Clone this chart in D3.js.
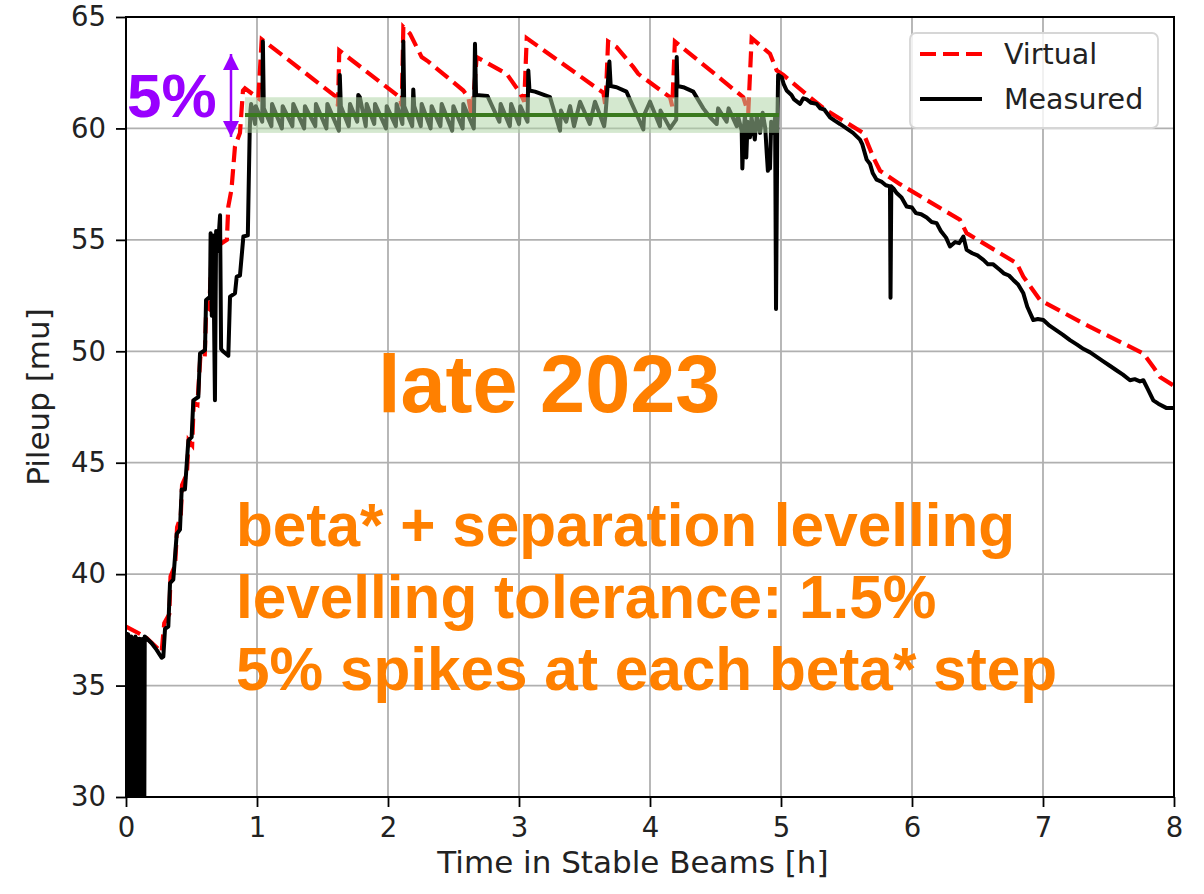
<!DOCTYPE html>
<html>
<head>
<meta charset="utf-8">
<title>Pileup levelling late 2023</title>
<script src="https://d3js.org/d3.v7.min.js"></script>
<style>
  body { margin: 0; background: #fff; }
  text { font-family: "DejaVu Sans", sans-serif; }
</style>
</head>
<body>
<div id="chart"></div>
<script>
// axis ticks
const xTicks = [0, 1, 2, 3, 4, 5, 6, 7, 8];
const yTicks = [30, 35, 40, 45, 50, 55, 60, 65];

// virtual pileup [time h, mu]
const virtual = [
  [0.000, 37.65], [0.145, 37.2], [0.272, 36.5], [0.292, 37.8], [0.330, 38.2], [0.340, 39.9],
  [0.375, 40.4], [0.390, 42.1], [0.418, 42.6], [0.428, 44.0], [0.465, 44.5], [0.478, 46.0],
  [0.505, 45.8], [0.517, 47.7], [0.545, 47.6], [0.567, 49.7], [0.600, 49.6], [0.613, 52.0],
  [0.635, 51.9], [0.650, 53.9], [0.692, 54.7],
  [0.770, 55.0], [0.781, 56.5], [0.805, 57.25], [0.832, 59.2], [0.870, 59.8], [0.893, 61.7],
  [0.908, 61.8], [1.010, 61.35], [1.036, 64.0], [1.608, 61.4], [1.618, 61.0], [1.628, 63.5],
  [2.090, 61.4], [2.105, 61.0], [2.117, 64.55], [2.168, 64.25], [2.257, 63.2], [2.308, 63.0],
  [2.575, 61.7], [2.613, 61.4], [2.640, 60.5], [2.677, 63.2], [2.906, 62.45], [3.008, 61.6],
  [3.040, 61.2], [3.059, 64.05], [3.644, 61.6], [3.660, 61.0], [3.680, 63.9], [3.745, 63.65],
  [3.873, 62.75], [3.910, 62.45], [4.153, 61.4], [4.170, 61.0], [4.190, 63.9], [4.712, 61.4],
  [4.750, 60.7], [4.776, 64.05], [4.916, 63.35], [4.967, 62.6], [5.018, 62.4], [5.221, 61.4],
  [5.349, 60.8], [5.628, 59.8], [5.705, 58.7], [5.756, 58.1], [5.908, 57.5], [6.366, 55.9],
  [6.417, 55.3], [6.799, 53.95], [6.850, 53.35], [6.977, 52.3], [7.308, 51.25], [7.766, 49.9],
  [7.842, 49.3], [7.893, 48.85], [8.000, 48.45]
];

// measured pileup [time h, mu]
const measured = [
  // dropouts at the very start
  [0.000, 37.4], [0.004, 30], [0.008, 37.3], [0.012, 30], [0.016, 37.3], [0.020, 30],
  [0.024, 37.2], [0.028, 30], [0.032, 37.2], [0.036, 30], [0.040, 37.2], [0.044, 30],
  [0.048, 37.1], [0.052, 30], [0.056, 37.1], [0.060, 30], [0.064, 37.1], [0.068, 30],
  [0.072, 37.2], [0.076, 30], [0.080, 37.1], [0.084, 30], [0.088, 37.1], [0.092, 30],
  [0.096, 37.0], [0.100, 30], [0.104, 37.1], [0.108, 30], [0.112, 37.0], [0.116, 30],
  [0.120, 37.0], [0.124, 30], [0.128, 37.1], [0.132, 30], [0.136, 37.1], [0.140, 30],
  [0.143, 37.2],
  // ramp up
  [0.196, 36.9], [0.234, 36.6], [0.272, 36.25], [0.285, 36.3], [0.298, 37.55], [0.323, 37.65],
  [0.336, 39.6], [0.361, 39.75], [0.387, 41.8], [0.412, 42.0], [0.425, 43.8], [0.450, 43.8],
  [0.476, 46.0], [0.501, 46.15], [0.514, 47.8], [0.552, 47.95], [0.565, 49.9], [0.603, 50.05],
  [0.611, 52.3], [0.641, 52.45], [0.646, 55.3], [0.655, 51.6], [0.665, 55.2], [0.679, 47.8],
  [0.688, 55.4], [0.700, 54.5], [0.718, 56.1], [0.726, 50.1], [0.740, 50.0], [0.781, 49.8],
  [0.794, 52.45], [0.832, 52.6], [0.845, 53.35], [0.870, 53.4], [0.896, 55.15], [0.930, 55.2],
  [0.936, 57.2], [0.944, 59.8], [0.950, 60.8],
  // levelling plateau
  [0.955, 61.1], [0.985, 60.2], [0.990, 61.0], [1.040, 60.3], [1.045, 63.9], [1.052, 60.9],
  [1.110, 60.1], [1.115, 61.1], [1.190, 60.0], [1.196, 61.0], [1.270, 60.1], [1.277, 61.1],
  [1.360, 60.0], [1.366, 61.0], [1.445, 60.1], [1.450, 61.1], [1.530, 60.0], [1.537, 61.1],
  [1.625, 59.9], [1.632, 62.4], [1.640, 61.0], [1.700, 60.1], [1.710, 61.1], [1.765, 60.3],
  [1.773, 61.5], [1.785, 61.4], [1.830, 60.1], [1.837, 61.1], [1.895, 60.2], [1.901, 61.1],
  [1.985, 60.0], [1.990, 61.0], [2.060, 60.1], [2.066, 61.1], [2.110, 60.2], [2.117, 63.9],
  [2.124, 61.0], [2.185, 60.1], [2.193, 61.75], [2.200, 61.0], [2.250, 60.1], [2.257, 61.1],
  [2.325, 60.0], [2.333, 61.0], [2.400, 60.1], [2.410, 61.1], [2.490, 59.9], [2.499, 61.0],
  [2.570, 60.0], [2.575, 61.1], [2.655, 60.0], [2.664, 63.8], [2.672, 61.5], [2.760, 61.45],
  [2.850, 60.3], [2.860, 61.1], [2.930, 60.1], [2.940, 61.1], [3.000, 60.2], [3.010, 61.0],
  [3.065, 60.3], [3.071, 62.6], [3.080, 61.7], [3.122, 61.65], [3.237, 61.4], [3.313, 59.9],
  [3.320, 60.8], [3.360, 60.3], [3.390, 61.0], [3.420, 60.1], [3.466, 61.2], [3.540, 60.2],
  [3.580, 61.2], [3.650, 60.1], [3.660, 60.6], [3.690, 63.0], [3.700, 61.9], [3.745, 61.85],
  [3.820, 61.65], [3.900, 60.6], [3.949, 59.95], [3.955, 60.6], [4.000, 61.2], [4.076, 60.1],
  [4.080, 60.8], [4.153, 60.0], [4.200, 60.4], [4.204, 63.2], [4.210, 61.9], [4.254, 61.85],
  [4.330, 61.65], [4.407, 60.9], [4.458, 60.5], [4.509, 60.2], [4.520, 60.9], [4.585, 60.3],
  [4.600, 60.9], [4.662, 60.1], [4.670, 60.6], [4.700, 59.9],
  // end of levelling
  [4.705, 58.2], [4.715, 59.9], [4.725, 60.6], [4.735, 58.7], [4.745, 60.3], [4.763, 59.6],
  [4.775, 60.5], [4.800, 59.5], [4.815, 60.6], [4.840, 59.8], [4.860, 60.7], [4.880, 60.0],
  [4.891, 58.9], [4.900, 58.1], [4.910, 59.0], [4.916, 58.2], [4.925, 60.3], [4.942, 59.8],
  [4.955, 60.5], [4.962, 51.9], [4.972, 60.0], [4.978, 62.4], [4.990, 62.35],
  // decay
  [5.005, 62.3], [5.020, 62.0], [5.043, 61.7], [5.080, 61.5], [5.100, 61.3], [5.145, 61.1],
  [5.170, 61.35], [5.196, 61.3], [5.230, 61.15], [5.272, 61.1], [5.300, 60.9], [5.330, 60.85],
  [5.374, 60.5], [5.410, 60.35], [5.450, 60.2], [5.500, 60.0], [5.550, 59.8], [5.603, 59.5],
  [5.620, 59.3], [5.654, 58.6], [5.680, 58.4], [5.700, 58.0], [5.730, 57.7], [5.770, 57.6],
  [5.800, 57.45], [5.832, 57.4], [5.836, 52.4], [5.842, 57.4], [5.860, 57.3], [5.883, 57.1],
  [5.920, 56.9], [5.959, 56.5], [6.000, 56.45], [6.030, 56.2], [6.070, 56.15], [6.112, 56.0],
  [6.150, 55.8], [6.188, 55.75], [6.220, 55.4], [6.260, 55.1], [6.290, 54.7], [6.330, 54.9],
  [6.360, 54.85], [6.392, 55.15], [6.417, 54.55], [6.460, 54.4], [6.500, 54.3], [6.545, 54.1],
  [6.580, 53.9], [6.620, 53.9], [6.672, 53.65], [6.700, 53.5], [6.740, 53.4], [6.773, 53.2],
  [6.810, 53.0], [6.850, 52.6], [6.880, 52.0], [6.926, 51.4], [6.960, 51.45], [7.003, 51.4],
  [7.050, 51.15], [7.100, 50.95], [7.150, 50.75], [7.206, 50.5], [7.260, 50.3], [7.310, 50.1],
  [7.360, 49.95], [7.410, 49.75], [7.460, 49.55], [7.510, 49.35], [7.560, 49.15], [7.610, 48.95],
  [7.664, 48.7], [7.700, 48.75], [7.740, 48.65], [7.766, 48.7], [7.800, 48.3], [7.842, 47.8],
  [7.880, 47.65], [7.944, 47.45], [8.000, 47.45]
];

// levelling target and tolerance band
const bandTime = [0.908, 4.985];
const bandMu = [59.8, 61.4];
const targetMu = 60.6;

const width = 1204, height = 894;
const plot = { left: 126, right: 1174, top: 17, bottom: 797 };

const svg = d3.select("#chart").append("svg")
  .attr("width", width)
  .attr("height", height);

const x = d3.scaleLinear().domain([0, 8]).range([plot.left, plot.right]);
const y = d3.scaleLinear().domain([30, 65]).range([plot.bottom, plot.top]);

svg.append("clipPath").attr("id", "clip")
  .append("rect")
  .attr("x", plot.left).attr("y", plot.top)
  .attr("width", plot.right - plot.left).attr("height", plot.bottom - plot.top);

// grid
svg.append("g").selectAll("line").data(xTicks).enter().append("line")
  .attr("x1", d => x(d)).attr("x2", d => x(d))
  .attr("y1", plot.top).attr("y2", plot.bottom)
  .attr("stroke", "#b0b0b0").attr("stroke-width", 1.8);
svg.append("g").selectAll("line").data(yTicks).enter().append("line")
  .attr("y1", d => y(d)).attr("y2", d => y(d))
  .attr("x1", plot.left).attr("x2", plot.right)
  .attr("stroke", "#b0b0b0").attr("stroke-width", 1.8);

const line = d3.line().x(d => x(d[0])).y(d => y(d[1]));
const data = svg.append("g").attr("clip-path", "url(#clip)");

data.append("path").datum(virtual)
  .attr("d", line)
  .attr("fill", "none").attr("stroke", "#ff0000")
  .attr("stroke-width", 4.2).attr("stroke-dasharray", "16 7");

data.append("path").datum(measured)
  .attr("d", line)
  .attr("fill", "none").attr("stroke", "#000")
  .attr("stroke-width", 4).attr("stroke-linejoin", "round");

// tolerance band drawn over the lines
svg.append("rect")
  .attr("x", x(bandTime[0])).attr("width", x(bandTime[1]) - x(bandTime[0]))
  .attr("y", y(bandMu[1])).attr("height", y(bandMu[0]) - y(bandMu[1]))
  .attr("fill", "rgb(173,211,163)").attr("fill-opacity", 0.52);

svg.append("line")
  .attr("x1", x(bandTime[0])).attr("x2", x(bandTime[1]))
  .attr("y1", y(targetMu)).attr("y2", y(targetMu))
  .attr("stroke", "#3a7a1e").attr("stroke-width", 4);

// axes
const xAxis = svg.append("g")
  .attr("transform", `translate(0,${plot.bottom})`)
  .call(d3.axisBottom(x).tickValues(xTicks).tickSize(10).tickPadding(10).tickFormat(d3.format("d")));
const yAxis = svg.append("g")
  .attr("transform", `translate(${plot.left},0)`)
  .call(d3.axisLeft(y).tickValues(yTicks).tickSize(10).tickPadding(10).tickFormat(d3.format("d")));
[xAxis, yAxis].forEach(a => {
  a.select(".domain").remove();
  a.selectAll(".tick line").attr("stroke", "#000").attr("stroke-width", 1.8);
  a.selectAll(".tick text").attr("font-size", 27.5).attr("fill", "#222")
    .style("font-family", "DejaVu Sans");
});

svg.append("rect")
  .attr("x", plot.left).attr("y", plot.top)
  .attr("width", plot.right - plot.left).attr("height", plot.bottom - plot.top)
  .attr("fill", "none").attr("stroke", "#000").attr("stroke-width", 2);

svg.append("text")
  .attr("x", 633).attr("y", 873)
  .attr("text-anchor", "middle").attr("font-size", 31).attr("fill", "#222")
  .text("Time in Stable Beams [h]");
svg.append("text")
  .attr("transform", "translate(49,397) rotate(-90)")
  .attr("text-anchor", "middle").attr("font-size", 31).attr("fill", "#222")
  .text("Pileup [mu]");

// legend
const legend = svg.append("g");
legend.append("rect")
  .attr("x", 910).attr("y", 33).attr("width", 248).attr("height", 95).attr("rx", 6)
  .attr("fill", "#fff").attr("fill-opacity", 0.8)
  .attr("stroke", "#d6d6d6").attr("stroke-width", 1.8);
const items = [
  { name: "Virtual", color: "#ff0000", dash: "16 7" },
  { name: "Measured", color: "#000", dash: null }
];
items.forEach((d, i) => {
  const ly = 54 + i * 45;
  legend.append("line")
    .attr("x1", 920).attr("x2", 982).attr("y1", ly).attr("y2", ly)
    .attr("stroke", d.color).attr("stroke-width", 4.2)
    .attr("stroke-dasharray", d.dash);
  legend.append("text")
    .attr("x", 1004).attr("y", ly + 10)
    .attr("font-size", 28.5).attr("fill", "#222")
    .text(d.name);
});

// annotations
const bold = "'Liberation Sans', Arial, sans-serif";
svg.append("text")
  .attr("x", 127).attr("y", 117)
  .style("font-family", bold).attr("font-weight", "bold").attr("font-size", 62)
  .attr("fill", "#9900ff").text("5%");

svg.append("defs").append("marker")
  .attr("id", "head").attr("viewBox", "0 0 10 10")
  .attr("refX", 10).attr("refY", 5)
  .attr("markerWidth", 16).attr("markerHeight", 16)
  .attr("markerUnits", "userSpaceOnUse")
  .attr("orient", "auto-start-reverse")
  .append("path").attr("d", "M0,0 L10,5 L0,10 Z").attr("fill", "#9900ff");
svg.append("line")
  .attr("x1", 231).attr("x2", 231).attr("y1", 54).attr("y2", 137)
  .attr("stroke", "#9900ff").attr("stroke-width", 2.5)
  .attr("marker-start", "url(#head)").attr("marker-end", "url(#head)");

const orange = "#ff8000";
svg.append("text")
  .attr("x", 378).attr("y", 412)
  .style("font-family", bold).attr("font-weight", "bold").attr("font-size", 81)
  .attr("fill", orange).text("late 2023");

const notes = ["beta* + separation levelling", "levelling tolerance: 1.5%", "5% spikes at each beta* step"];
svg.append("g").selectAll("text").data(notes).enter().append("text")
  .attr("x", 236).attr("y", (d, i) => 546 + i * 72)
  .style("font-family", bold).attr("font-weight", "bold").attr("font-size", 60.3)
  .attr("fill", orange).text(d => d);
</script>
</body>
</html>
